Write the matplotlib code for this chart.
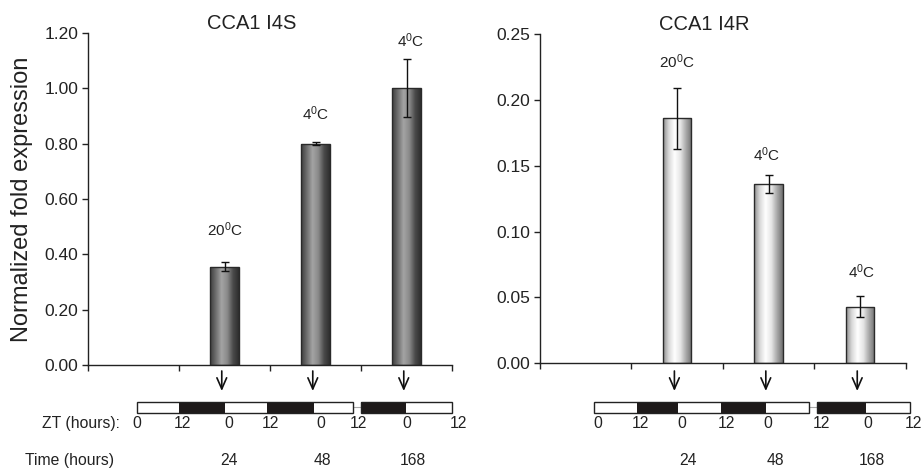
import numpy as np
import matplotlib
matplotlib.use("Agg")
import matplotlib.pyplot as plt
import matplotlib.transforms as mtransforms
from matplotlib.colors import LinearSegmentedColormap

plt.rcParams['font.family'] = ['Liberation Sans', 'DejaVu Sans']
plt.rcParams['mathtext.fontset'] = 'custom'
plt.rcParams['mathtext.rm'] = 'Liberation Sans'
plt.rcParams['mathtext.default'] = 'regular'

# ---------------- data ----------------
categories = ["", "24", "48", "168"]
time_labels = ["24", "48", "168"]
left_title = "CCA1 I4S"
right_title = "CCA1 I4R"
left_values = [0.355, 0.80, 1.00]
left_errors = [0.017, 0.006, 0.105]
right_values = [0.186, 0.136, 0.043]
right_errors = [0.023, 0.007, 0.008]
left_temps = ["20$^0$C", "4$^0$C", "4$^0$C"]
right_temps = ["20$^0$C", "4$^0$C", "4$^0$C"]
left_yticks = [0.0, 0.2, 0.4, 0.6, 0.8, 1.0, 1.2]
right_yticks = [0.0, 0.05, 0.10, 0.15, 0.20, 0.25]
zt_labels = ["0", "12", "0", "12", "0", "12", "0", "12"]
# light(0)/dark(1) pattern of ZT segments
zt_pattern_a = [0, 1, 0, 1, 0]
zt_pattern_b = [1, 0]

# ---------------- layout ----------------
W, H = 922, 469
fig = plt.figure(figsize=(W / 100, H / 100), dpi=100)

def frac_y(py):
    return 1 - py / H

axL = fig.add_axes([88 / W, frac_y(365), 364 / W, 332 / H])
axR = fig.add_axes([540 / W, frac_y(363.3), 365.7 / W, 329.3 / H])

# label heights (data y) for the temperature annotations
temp_label_y = {'L': [0.488, 0.907, 1.171], 'R': [0.2287, 0.1582, 0.0693]}
temp_label_dx = {'L': [0.0, 0.0, 0.05], 'R': [0.0, -0.02, 0.02]}

# ZT segment boundaries (data x) per panel
zt_bounds = {
    'L': ([0.038, 0.50, 1.005, 1.467, 1.98, 2.41], [2.50, 2.995, 3.50]),
    'R': ([0.091, 0.558, 1.013, 1.48, 1.973, 2.443], [2.527, 3.063, 3.548]),
}
zt_label_x = {
    'L': [0.038, 0.54, 1.05, 1.50, 2.06, 2.47, 3.00, 3.57],
    'R': [0.131, 0.594, 1.05, 1.543, 1.995, 2.58, 3.087, 3.58],
}
time_x = {'L': [1.05, 2.08, 3.07], 'R': [1.116, 2.07, 3.13]}

dark_cmap = LinearSegmentedColormap.from_list(
    'd', ['#3c3c3c', '#6e6e6e', '#a4a4a4', '#8a8a8a', '#4a4a4a', '#2e2e2e'])
light_cmap = LinearSegmentedColormap.from_list(
    'l', ['#8c8c8c', '#d8d8d8', '#ffffff', '#e6e6e6', '#a8a8a8', '#707070'])

BOTTOM_FS = 11.3


def draw_panel(ax, key, values, errors, temps, title, yticks, ymax, cmap):
    xs = np.arange(1, len(values) + 1)
    bars = ax.bar(xs, values, width=0.31, color='none', edgecolor='#2a2a2a',
                  linewidth=1.0, zorder=3)
    grad = np.linspace(0, 1, 256).reshape(1, -1)
    for b in bars:
        x0, w, h = b.get_x(), b.get_width(), b.get_height()
        im = ax.imshow(grad, cmap=cmap, aspect='auto',
                       extent=[x0, x0 + w, 0, h], zorder=2, interpolation='bilinear')
        im.set_clip_path(b)
    ax.errorbar(xs, values, yerr=errors, fmt='none', ecolor='#111111',
                elinewidth=1.0, capsize=3, capthick=1.0, zorder=4)
    for x, ty, dx, t in zip(xs, temp_label_y[key], temp_label_dx[key], temps):
        ax.text(x + dx, ty, t, ha='center', va='center', fontsize=11, color='#222222')
    ax.set_xlim(-0.5, 3.5)
    ax.set_ylim(0, ymax)
    ax.set_xticks(np.arange(-0.5, 4.0, 1.0))
    ax.set_xticklabels([])
    ax.set_yticks(yticks)
    ax.set_yticklabels([f"{t:.2f}" for t in yticks], fontsize=12.5, color='#222222')
    ax.tick_params(axis='both', direction='out', length=4, width=1, colors='#222222',
                   labelcolor='#222222')
    ax.tick_params(axis='y', pad=3)
    for s in ['top', 'right']:
        ax.spines[s].set_visible(False)
    for s in ['left', 'bottom']:
        ax.spines[s].set_color('#222222')
        ax.spines[s].set_linewidth(1.0)
    ax.set_title(title, fontsize=14.5, color='#222222', pad=-1)
    ax.title.set_position((0.45, 1.0))

    tr = mtransforms.blended_transform_factory(ax.transData, fig.transFigure)
    # arrows
    for x in xs:
        ax.annotate('', xy=(x - 0.03, frac_y(391)), xycoords=tr,
                    xytext=(x - 0.03, frac_y(371)), textcoords=tr,
                    arrowprops=dict(arrowstyle='->,head_length=0.8,head_width=0.35',
                                    color='#111111', lw=1.2, shrinkA=0, shrinkB=0),
                    annotation_clip=False)
    # ZT bars
    ya, yb = frac_y(412.7), frac_y(402)
    segA, segB = zt_bounds[key]
    ax.plot([segA[-1], segB[0]], [(ya + yb) / 2] * 2, transform=tr, color='#aaaaaa',
            lw=0.8, clip_on=False)
    for bounds, pattern in ((segA, zt_pattern_a), (segB, zt_pattern_b)):
        for i, p in enumerate(pattern):
            rect = plt.Rectangle((bounds[i], ya), bounds[i + 1] - bounds[i], yb - ya,
                                 transform=tr, facecolor='#1e1a1a' if p else 'white',
                                 edgecolor='none', clip_on=False, zorder=5)
            ax.add_artist(rect)
        rect = plt.Rectangle((bounds[0], ya), bounds[-1] - bounds[0], yb - ya,
                             transform=tr, facecolor='none', edgecolor='#222222',
                             lw=1.0, clip_on=False, zorder=6)
        ax.add_artist(rect)
    for x, lab in zip(zt_label_x[key], zt_labels):
        ax.text(x, frac_y(423), lab, transform=tr, ha='center', va='center',
                fontsize=BOTTOM_FS, color='#222222', clip_on=False)
    for x, lab in zip(time_x[key], time_labels):
        ax.text(x, frac_y(460), lab, transform=tr, ha='center', va='center',
                fontsize=BOTTOM_FS, color='#222222', clip_on=False)


draw_panel(axL, 'L', left_values, left_errors, left_temps, left_title,
           left_yticks, 1.2, dark_cmap)
draw_panel(axR, 'R', right_values, right_errors, right_temps, right_title,
           right_yticks, 0.25, light_cmap)

axL.set_ylabel("Normalized fold expression", fontsize=17, color='#222222', labelpad=8)
fig.text(120 / W, frac_y(423), "ZT (hours):", ha='right', va='center',
         fontsize=BOTTOM_FS, color='#222222')
fig.text(25 / W, frac_y(460), "Time (hours)", ha='left', va='center',
         fontsize=BOTTOM_FS, color='#222222')

fig.savefig("out.png", dpi=100)
